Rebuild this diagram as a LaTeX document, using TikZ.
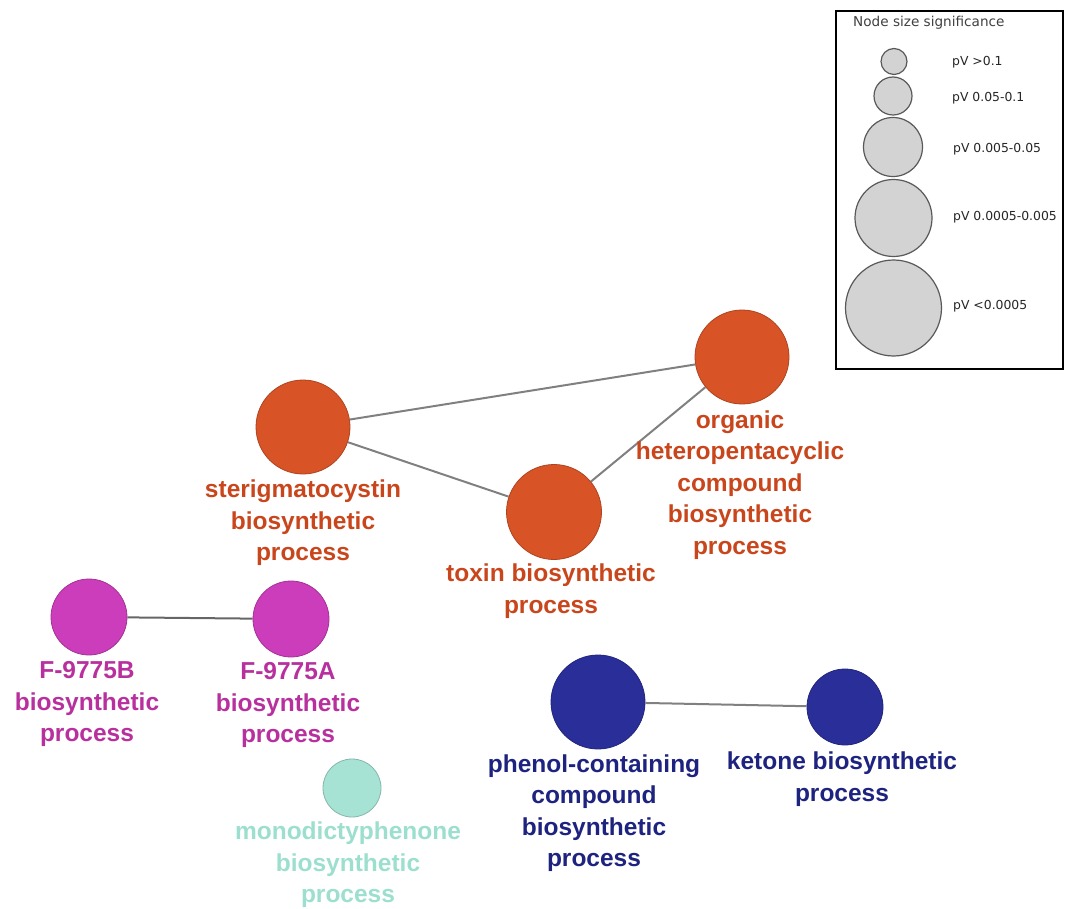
\documentclass[tikz,border=0pt]{standalone}
\usepackage{fontspec}
\setmainfont{Liberation Sans}
\newfontfamily\legfont{DejaVu Sans}
\definecolor{cOr}{HTML}{D85427}
\definecolor{tOr}{HTML}{C9461C}
\definecolor{cMg}{HTML}{CC3DBB}
\definecolor{tMg}{HTML}{B8309E}
\definecolor{cTl}{HTML}{A6E3D5}
\definecolor{tTl}{HTML}{9CDFCE}
\definecolor{cNv}{HTML}{2A2E99}
\definecolor{tNv}{HTML}{1E237F}
\definecolor{cEdge}{HTML}{808080}
\definecolor{cLeg}{HTML}{D3D3D3}
\begin{document}
\begin{tikzpicture}[x=1pt,y=-1pt,
  term/.style={circle,inner sep=0pt,draw=#1!80!black,fill=#1,line width=0.8pt},
  lab/.style={align=center,inner sep=0pt,text=#1,font=\fontsize{24.5}{31.5}\selectfont\bfseries},
  link/.style={draw=cEdge,line width=2pt},
  legc/.style={circle,inner sep=0pt,draw=black!65,fill=cLeg,line width=1.2pt},
  legt/.style={anchor=west,inner sep=0pt,text=black!85,font=\legfont\fontsize{12.4}{14}\selectfont}
]
\useasboundingbox (0,0) rectangle (1065,909);

% legend
\node[draw=black,line width=1.6pt,minimum width=227pt,minimum height=358pt,inner sep=0pt,anchor=north west] (legbox) at (835,10) {};
\node[legt,text=black!75,font=\legfont\fontsize{13.6}{15}\selectfont] (legtitle) at (853,23) {Node size significance};
\node[legc,minimum size=26pt] (l1) at (894,61.5) {};
\node[legc,minimum size=38pt] (l2) at (893,96) {};
\node[legc,minimum size=59pt] (l3) at (893,147) {};
\node[legc,minimum size=77pt] (l4) at (893.5,218) {};
\node[legc,minimum size=96pt] (l5) at (893.5,308) {};
\node[legt] (t1) at (952,62) {pV >0.1};
\node[legt] (t2) at (952,98) {pV 0.05-0.1};
\node[legt] (t3) at (953,149) {pV 0.005-0.05};
\node[legt] (t4) at (953,217) {pV 0.0005-0.005};
\node[legt] (t5) at (953,306) {pV <0.0005};

% term nodes
\node[term=cOr,minimum size=94pt] (st) at (303,427) {};
\node[term=cOr,minimum size=94pt] (org) at (742,357) {};
\node[term=cOr,minimum size=95pt] (tox) at (554,512) {};
\node[term=cMg,minimum size=76pt] (fb) at (89,617) {};
\node[term=cMg,minimum size=76pt] (fa) at (291,619) {};
\node[term=cTl,minimum size=58pt] (mono) at (352,788) {};
\node[term=cNv,minimum size=94pt] (phe) at (598,702) {};
\node[term=cNv,minimum size=76pt] (ket) at (845,707) {};

% edges
\draw[link] (st) -- (org);
\draw[link] (st) -- (tox);
\draw[link] (tox) -- (org);
\draw[link,draw=black!60] (fb) -- (fa);
\draw[link] (phe) -- (ket);

% labels
\node[lab=tOr] (stl) at (303,523) {sterigmatocystin\\biosynthetic\\process};
\node[lab=tOr] (toxl) at (551,591) {toxin biosynthetic\\process};
\node[lab=tOr] (orgl) at (740,485) {organic\\heteropentacyclic\\compound\\biosynthetic\\process};
\node[lab=tMg] (fbl) at (87,704) {F-9775B\\biosynthetic\\process};
\node[lab=tMg] (fal) at (288,705) {F-9775A\\biosynthetic\\process};
\node[lab=tTl] (monol) at (348,865) {monodictyphenone\\biosynthetic\\process};
\node[lab=tNv] (phel) at (594,813) {phenol-containing\\compound\\biosynthetic\\process};
\node[lab=tNv] (ketl) at (842,779) {ketone biosynthetic\\process};
\end{tikzpicture}
\end{document}
